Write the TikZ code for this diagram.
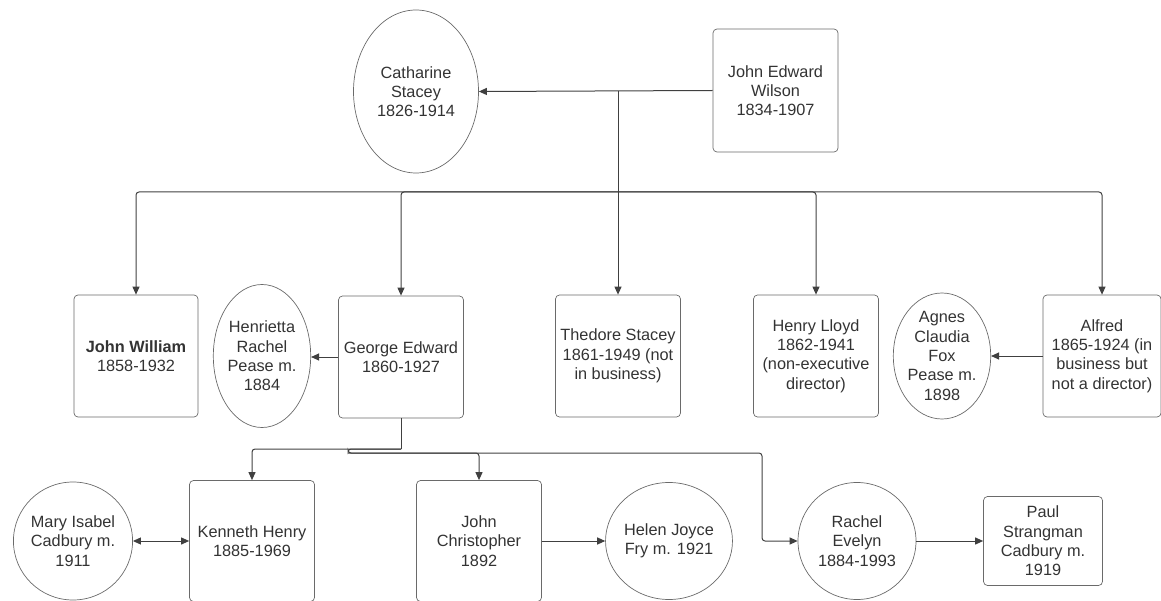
\documentclass[tikz,border=0pt]{standalone}
\usepackage{fontspec}
\setmainfont{Liberation Sans}
\usetikzlibrary{shapes.geometric,arrows.meta}
\definecolor{txt}{HTML}{333333}
\definecolor{edge}{HTML}{6A6A6A}
\definecolor{wire}{HTML}{404040}
\tikzset{
  base/.style={draw=edge, line width=0.7pt, text=txt, align=center, inner sep=0pt,
    font=\fontsize{16.3}{19.3}\selectfont},
  person/.style={base, rectangle, rounded corners=4pt},
  spouse/.style={base, ellipse},
  conn/.style={draw=wire, line width=1pt, rounded corners=3pt},
  arr/.style={conn, -{Triangle[length=8pt,width=7pt]}},
  darr/.style={conn, {Triangle[length=8pt,width=7pt]}-{Triangle[length=8pt,width=7pt]}}
}
\begin{document}
\begin{tikzpicture}[x=1pt,y=-1pt]
\useasboundingbox (0,0) rectangle (1161,601);
% top generation
\node[spouse, minimum width=125pt, minimum height=163pt] (cat) at (416,91.5) {Catharine\\Stacey\\1826-1914};
\node[person, minimum width=125pt, minimum height=123pt] (jew) at (775.5,90.5) {John Edward\\Wilson\\1834-1907};
% second generation
\node[person, minimum width=124pt, minimum height=122pt] (jw) at (136,356) {\textbf{John William}\\1858-1932};
\node[spouse, minimum width=95pt, minimum height=143pt] (hen) at (262,356) {Henrietta\\Rachel\\Pease m.\\1884};
\node[person, minimum width=125pt, minimum height=122pt] (ge) at (401,357) {George Edward\\1860-1927};
\node[person, minimum width=125pt, minimum height=122pt] (thed) at (618,356) {Thedore Stacey\\1861-1949 (not\\in business)};
\node[person, minimum width=125pt, minimum height=122pt] (hl) at (816,356) {Henry Lloyd\\1862-1941\\(non-executive\\director)};
\node[spouse, minimum width=85pt, minimum height=126pt] (agn) at (942,356) {Agnes\\Claudia\\Fox\\Pease m.\\1898};
\node[person, minimum width=118pt, minimum height=122pt] (alf) at (1102,356) {Alfred\\1865-1924 (in\\business but\\not a director)};
% third generation
\node[spouse, minimum width=118pt, minimum height=118pt] (mary) at (73,541) {Mary Isabel\\Cadbury m.\\1911};
\node[person, minimum width=125pt, minimum height=121pt] (kh) at (252,541) {Kenneth Henry\\1885-1969};
\node[person, minimum width=125pt, minimum height=121pt] (jc) at (479,541) {John\\Christopher\\1892};
\node[spouse, minimum width=118pt, minimum height=117pt] (helen) at (669,541) {Helen Joyce\\Fry m. 1921};
\node[spouse, minimum width=118pt, minimum height=117pt] (rach) at (857,541) {Rachel\\Evelyn\\1884-1993};
\node[person, minimum width=119pt, minimum height=89pt] (paul) at (1043,541) {Paul\\Strangman\\Cadbury m.\\1919};
% junction coordinates
\coordinate (j) at (618,91);
\coordinate (b) at (618,192);
\coordinate (c) at (401,449);
\coordinate (h1) at (348,449);
\coordinate (h2) at (348,453);
\coordinate (rr) at (762,541);
% connectors: first generation
\draw[arr] (jew.west) -- (cat.east);
\draw[arr] (j) -- (thed.north);
\draw[arr] (b) -| (jw.north);
\draw[arr] (b) -| (ge.north);
\draw[arr] (b) -| (hl.north);
\draw[arr] (b) -| (alf.north);
% spouses second generation
\draw[arr] (ge.west) -- (ge.west -| hen.east);
\draw[arr] (alf.west) -- (alf.west -| agn.east);
% George Edward's children
\draw[conn] (ge.south) -- (c);
\draw[arr] (c) -| (kh.north);
\draw[arr] (c) -- (h1) -- (h2) -| (jc.north);
\draw[arr] (h2) -| (rr) -- (rach.west);
% third generation spouses
\draw[darr] (mary.east) -- (kh.west);
\draw[arr] (jc.east) -- (helen.west);
\draw[arr] (rach.east) -- (paul.west);
\end{tikzpicture}
\end{document}
